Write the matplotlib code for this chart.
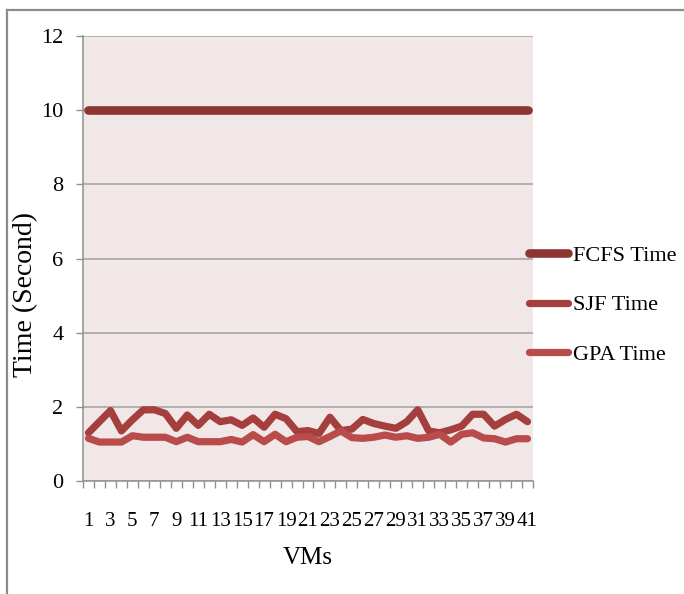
import matplotlib
matplotlib.use("Agg")
import matplotlib.pyplot as plt
from matplotlib.lines import Line2D
import numpy as np

plt.rcParams['font.family'] = ['Liberation Serif', 'DejaVu Serif']

vms = list(range(1, 42))
fcfs = [10] * 41
sjf = [1.30, 1.60, 1.90, 1.35, 1.65, 1.92, 1.92, 1.82, 1.42, 1.78,
       1.50, 1.80, 1.60, 1.65, 1.50, 1.70, 1.45, 1.80, 1.68, 1.33,
       1.36, 1.28, 1.72, 1.36, 1.40, 1.66, 1.55, 1.48, 1.42, 1.60,
       1.92, 1.35, 1.30, 1.38, 1.48, 1.80, 1.80, 1.48, 1.66, 1.80,
       1.60]
gpa = [1.15, 1.05, 1.05, 1.05, 1.22, 1.18, 1.18, 1.18, 1.06, 1.18,
       1.06, 1.06, 1.06, 1.12, 1.05, 1.25, 1.06, 1.26, 1.06, 1.18,
       1.20, 1.06, 1.20, 1.35, 1.17, 1.15, 1.18, 1.24, 1.18, 1.22,
       1.15, 1.18, 1.26, 1.05, 1.26, 1.30, 1.16, 1.14, 1.05, 1.14,
       1.14]
series_names = ["FCFS Time", "SJF Time", "GPA Time"]
colors = ["#8E3433", "#A43F3E", "#B84C4A"]
yticks = [0, 2, 4, 6, 8, 10, 12]

fig = plt.figure(figsize=(6.84, 5.94), dpi=100)
ax = fig.add_axes([83/684, 1-481/594, 450/684, (481-36)/594])
ax.set_facecolor("#F2E7E7")

x = np.arange(1, len(vms) + 1)
lines = []
for ys, c, lw, name in zip([fcfs, sjf, gpa], colors, [6.2, 5.2, 5.2], series_names):
    l, = ax.plot(x, ys, color=c, lw=lw, solid_capstyle='round', solid_joinstyle='round', label=name)
    lines.append(l)

ax.set_xlim(0.5, len(vms) + 0.5)
ax.set_ylim(0, 12)
ax.set_yticks(yticks)
ax.set_yticklabels([str(v) for v in yticks], fontsize=16)
ax.yaxis.grid(True, color="#A0A0A0", lw=1.1)
ax.set_axisbelow(True)

# category boundary ticks, odd labels at centers
ax.set_xticks(np.arange(0.5, len(vms) + 1, 1.0))
ax.set_xticklabels([])
ax.set_xticks(x, minor=True)
ax.set_xticklabels([str(v) if v % 2 == 1 else "" for v in vms], minor=True, fontsize=15)
ax.tick_params(axis='x', which='major', length=5, color="#909090", width=1)
ax.tick_params(axis='x', which='minor', length=0, pad=22)
ax.tick_params(axis='y', length=5, color="#909090", width=1, pad=9)

for s in ['top', 'right']:
    ax.spines[s].set_visible(False)
for s in ['left', 'bottom']:
    ax.spines[s].set_color("#909090")
    ax.spines[s].set_linewidth(1.1)

ax.set_ylabel("Time (Second)", fontsize=20)
ax.yaxis.set_label_coords(-0.1, 0.42)
ax.set_xlabel("VMs", fontsize=18)
ax.xaxis.set_label_coords(0.5, -0.148)

leg = ax.legend(handles=lines, loc='center left', bbox_to_anchor=(529/684, 1-305/594),
                bbox_transform=fig.transFigure, frameon=False, fontsize=16,
                handlelength=1.75, handletextpad=0.25, labelspacing=1.3, borderpad=0,
                borderaxespad=0)

# outer frame (top and left edges visible)
fig.add_artist(Line2D([7/684, 7/684], [0, 1-10/594], transform=fig.transFigure, color="#8C8C8C", lw=1.6))
fig.add_artist(Line2D([7/684, 1], [1-10/594, 1-10/594], transform=fig.transFigure, color="#8C8C8C", lw=1.6))

fig.savefig("out.png", dpi=100)
